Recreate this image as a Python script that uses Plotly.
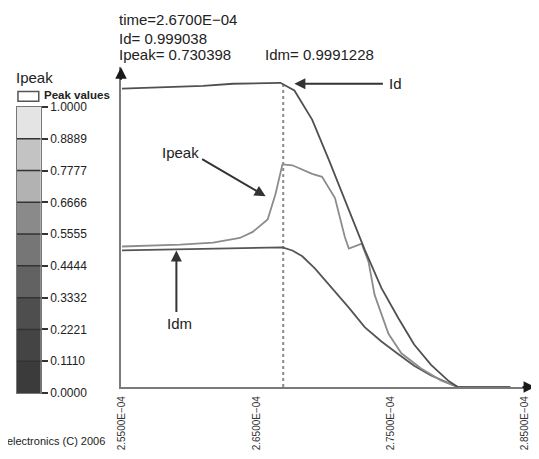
import plotly.graph_objects as go

# target canvas is 539x459; the page body adds an 8px margin, so the figure is drawn 8px smaller
W_REF, H_REF = 539, 459
OFF = 8
W, H = W_REF - OFF, H_REF - OFF

# ---------------- data ----------------
t_id = [2.5500, 2.6104, 2.6326, 2.6679, 2.6783, 2.6915, 2.7041, 2.7158, 2.7262, 2.7306,
        2.7431, 2.7557, 2.7674, 2.7800, 2.7925, 2.7999, 2.8389]
v_id = [0.981, 0.990, 0.997, 1.000, 0.975, 0.879, 0.745, 0.615, 0.497, 0.452,
        0.325, 0.226, 0.140, 0.073, 0.022, 0.0, 0.0]

t_ipeak = [2.5500, 2.5935, 2.6178, 2.6377, 2.6473, 2.6584, 2.6642, 2.6694, 2.6768, 2.6915,
           2.6989, 2.7085, 2.7158, 2.7188, 2.7284, 2.7335, 2.7380, 2.7483, 2.7579, 2.7726,
           2.7873, 2.7999, 2.8389]
v_ipeak = [0.462, 0.468, 0.475, 0.490, 0.510, 0.551, 0.634, 0.732, 0.729, 0.701,
           0.691, 0.621, 0.494, 0.455, 0.471, 0.411, 0.303, 0.175, 0.111, 0.061,
           0.022, 0.0, 0.0]

t_idm = [2.5500, 2.6694, 2.6768, 2.6842, 2.6937, 2.7063, 2.7188, 2.7306, 2.7431, 2.7557,
         2.7674, 2.7800, 2.7925, 2.7999, 2.8389]
v_idm = [0.449, 0.459, 0.449, 0.430, 0.389, 0.325, 0.261, 0.197, 0.150, 0.108,
         0.070, 0.038, 0.013, 0.0, 0.0]

cursor_time = 2.67e-4
x_tickvals = [2.55e-4, 2.65e-4, 2.75e-4, 2.85e-4]
x_ticktext = ["2.5500E\u221204", "2.6500E\u221204", "2.7500E\u221204", "2.8500E\u221204"]

cb_levels = [0.0, 0.1110, 0.2221, 0.3332, 0.4444, 0.5555, 0.6666, 0.7777, 0.8889, 1.0]
cb_labels = ["0.0000", "0.1110", "0.2221", "0.3332", "0.4444", "0.5555", "0.6666",
             "0.7777", "0.8889", "1.0000"]
cb_colors = ["#3b3b3b", "#444444", "#4e4e4e", "#626262", "#767676", "#8a8a8a",
             "#b2b2b2", "#c3c3c3", "#e4e4e4"]

header_lines = ["time=2.6700E\u221204", "Id= 0.999038", "Ipeak= 0.730398"]
header_idm = "Idm= 0.9991228"

# ---------------- helpers (reference pixel -> paper fraction) ----------------
def px_x(p):
    return (p - OFF) / W

def px_y(p):
    return 1 - (p - OFF) / H

sec = lambda arr: [a * 1e-4 for a in arr]

FONT = "Liberation Sans, Arial, sans-serif"
fig = go.Figure()

# colour-bar (second subplot)
fig.add_trace(go.Heatmap(
    z=[[i] for i in range(len(cb_colors))],
    x=[0, 1], y=cb_levels,
    colorscale=[[i / (len(cb_colors) - 1), c] for i, c in enumerate(cb_colors)],
    zmin=0, zmax=len(cb_colors) - 1, showscale=False, hoverinfo="skip",
    xaxis="x2", yaxis="y2"))
bx, by = [], []
for lv in cb_levels[1:-1]:
    bx += [0, 1, None]
    by += [lv, lv, None]
fig.add_trace(go.Scatter(x=bx, y=by, mode="lines", line=dict(color="#333333", width=1.5),
                         xaxis="x2", yaxis="y2", showlegend=False, hoverinfo="skip"))

# main curves
fig.add_trace(go.Scatter(x=[cursor_time, cursor_time], y=[0, 0.997], mode="lines",
                         line=dict(color="#8a8a8a", width=2, dash="dot"), showlegend=False))
fig.add_trace(go.Scatter(x=sec(t_idm), y=v_idm, mode="lines", name="Idm",
                         line=dict(color="#555555", width=1.8), showlegend=False))
fig.add_trace(go.Scatter(x=sec(t_ipeak), y=v_ipeak, mode="lines", name="Ipeak",
                         line=dict(color="#8c8c8c", width=1.8), showlegend=False))
fig.add_trace(go.Scatter(x=sec(t_id), y=v_id, mode="lines", name="Id",
                         line=dict(color="#505050", width=1.8), showlegend=False))

x0_px, x1_px = 117, 535
y0_px, y1_px = 392, 62
px_per_sec = 135.67 / 1e-5
xr0 = 2.55e-4 - (118 - x0_px) / px_per_sec
xr1 = 2.55e-4 + (x1_px - 118) / px_per_sec
yr1 = (y0_px - y1_px) / 314.0

fig.update_layout(
    width=W, height=H, margin=dict(l=0, r=0, t=0, b=0),
    paper_bgcolor="white", plot_bgcolor="white",
    font=dict(family=FONT, color="#222222"),
    xaxis=dict(domain=[px_x(x0_px), px_x(x1_px)], range=[xr0, xr1],
               showgrid=False, zeroline=False, showline=True, linecolor="#7a7a7a", linewidth=2,
               tickvals=x_tickvals, ticktext=x_ticktext, tickangle=-90, ticks="",
               ticklabelstandoff=3, tickfont=dict(size=10, color="#333333")),
    yaxis=dict(domain=[px_y(y0_px), px_y(y1_px)], range=[0, yr1],
               showgrid=False, zeroline=False, showline=True, linecolor="#7a7a7a", linewidth=2,
               showticklabels=False, ticks=""),
    xaxis2=dict(domain=[px_x(12), px_x(36)], range=[0, 1], anchor="y2",
                showgrid=False, zeroline=False, showticklabels=False, ticks="",
                showline=True, mirror=True, linecolor="#777777", linewidth=1),
    yaxis2=dict(domain=[px_y(398), px_y(103)], range=[0, 1], anchor="x2", side="right",
                showgrid=False, zeroline=False, showline=True, mirror=True,
                linecolor="#777777", linewidth=1,
                tickvals=cb_levels, ticktext=cb_labels, ticks="outside", ticklen=6,
                tickcolor="#333333", tickwidth=1.5, tickfont=dict(size=12, color="#222222")),
)

ann = []
# axis arrowheads
ann.append(dict(x=xr1, y=0, xref="x", yref="y", ax=-14, ay=0, text="", showarrow=True,
                arrowhead=2, arrowsize=1.15, arrowwidth=2, arrowcolor="#1a1a1a", standoff=0))
ann.append(dict(x=xr0, y=yr1, xref="x", yref="y", ax=0, ay=14, text="", showarrow=True,
                arrowhead=2, arrowsize=1.15, arrowwidth=2, arrowcolor="#1a1a1a", standoff=0))
# Id arrow
ann.append(dict(x=2.6783e-4, y=0.997, xref="x", yref="y", ax=90, ay=0, text="", showarrow=True,
                arrowhead=2, arrowsize=1.1, arrowwidth=2, arrowcolor="#333333", standoff=0))
ann.append(dict(x=2.55e-4 + (386 - 118) / px_per_sec, y=0.997, xref="x", yref="y", text="Id",
                showarrow=False, xanchor="left", font=dict(size=15)))
# Ipeak arrow
ann.append(dict(x=2.6569e-4, y=0.627, xref="x", yref="y", ax=-65, ay=-38, text="", showarrow=True,
                arrowhead=2, arrowsize=1.1, arrowwidth=2, arrowcolor="#333333", standoff=0))
ann.append(dict(x=2.5935e-4, y=0.771, xref="x", yref="y", text="Ipeak", showarrow=False,
                font=dict(size=15)))
# Idm arrow
ann.append(dict(x=2.5905e-4, y=0.449, xref="x", yref="y", ax=0, ay=63, text="", showarrow=True,
                arrowhead=2, arrowsize=1.1, arrowwidth=2, arrowcolor="#333333", standoff=0))
ann.append(dict(x=2.5927e-4, y=0.210, xref="x", yref="y", text="Idm", showarrow=False,
                font=dict(size=15)))
# header
for txt, yy in zip(header_lines, [13, 32, 49]):
    ann.append(dict(x=px_x(113), y=px_y(yy), xref="paper", yref="paper", text=txt,
                    showarrow=False, xanchor="left", yanchor="middle", font=dict(size=15)))
ann.append(dict(x=px_x(260), y=px_y(49), xref="paper", yref="paper", text=header_idm,
                showarrow=False, xanchor="left", yanchor="middle", font=dict(size=15)))
# colour-bar title & legend
ann.append(dict(x=px_x(9), y=px_y(73), xref="paper", yref="paper", text="Ipeak",
                showarrow=False, xanchor="left", yanchor="middle", font=dict(size=15)))
ann.append(dict(x=px_x(37), y=px_y(91), xref="paper", yref="paper", text="<b>Peak values</b>",
                showarrow=False, xanchor="left", yanchor="middle", font=dict(size=11.5)))
# copyright
ann.append(dict(x=px_x(103), y=px_y(448), xref="paper", yref="paper",
                text="Microelectronics (C) 2006", showarrow=False, xanchor="right",
                yanchor="middle", font=dict(size=11)))
fig.update_layout(annotations=ann)

fig.add_shape(type="rect", xref="paper", yref="paper", x0=px_x(13), x1=px_x(34),
              y0=px_y(97), y1=px_y(87), line=dict(color="#555555", width=1.5),
              fillcolor="white")

fig.write_html("out.html")
